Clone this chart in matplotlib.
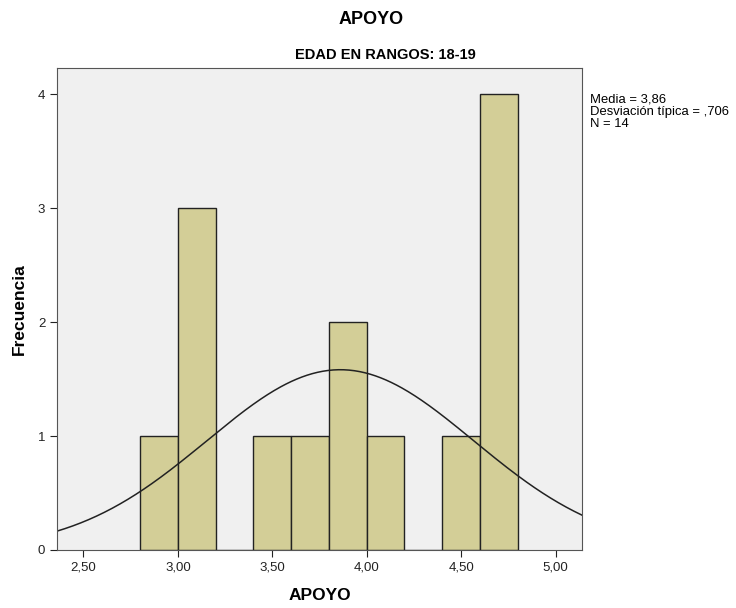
import numpy as np
import matplotlib.pyplot as plt

# data
bin_edges = [2.8, 3.0, 3.2, 3.4, 3.6, 3.8, 4.0, 4.2, 4.4, 4.6, 4.8]
counts = [1, 3, 0, 1, 1, 2, 1, 0, 1, 4]
media = 3.86
desv = 0.706
n = 14
xticks = [2.5, 3.0, 3.5, 4.0, 4.5, 5.0]
xticklabels = ['2,50', '3,00', '3,50', '4,00', '4,50', '5,00']
yticks = [0, 1, 2, 3, 4]

plt.rcParams['font.family'] = ['Liberation Sans', 'DejaVu Sans']

fig = plt.figure(figsize=(7.36, 6.08), dpi=100)
ax = fig.add_axes([57/736, 1-550/608, 525/736, 482/608])
ax.set_facecolor('#F0F0F0')

lefts = np.array(bin_edges[:-1])
widths = np.diff(bin_edges)
ax.bar(lefts, counts, width=widths, align='edge', color='#D3CE97',
       edgecolor='#222222', linewidth=1)

# curva normal
x0, x1 = 2.36, 5.14
xs = np.linspace(x0, x1, 400)
bw = 0.2
ys = n * bw / (desv * np.sqrt(2*np.pi)) * np.exp(-0.5*((xs-media)/desv)**2)
ax.plot(xs, ys, color='#222222', linewidth=1.1)

ax.set_xlim(x0, x1)
ax.set_ylim(0, 4.23)
ax.set_xticks(xticks)
ax.set_xticklabels(xticklabels)
ax.set_yticks(yticks)
ax.tick_params(labelsize=9.5, colors='#222222', length=5)
for s in ax.spines.values():
    s.set_color('#555555')

ax.set_xlabel('APOYO', fontsize=12.5, fontweight='bold', labelpad=10)
ax.set_ylabel('Frecuencia', fontsize=12.5, fontweight='bold', labelpad=8)

fig.text(371/736, 1-19/608, 'APOYO', ha='center', va='center', fontsize=13,
         fontweight='bold')
fig.text(385/736, 1-55/608, 'EDAD EN RANGOS: 18-19', ha='center', va='center',
         fontsize=10.5, fontweight='bold')

fig.text(590/736, 1-94/608, 'Media = 3,86\nDesviación típica = ,706\nN = 14',
         ha='left', va='top', fontsize=9.4, linespacing=1.0)

fig.savefig('out.png', dpi=100)
